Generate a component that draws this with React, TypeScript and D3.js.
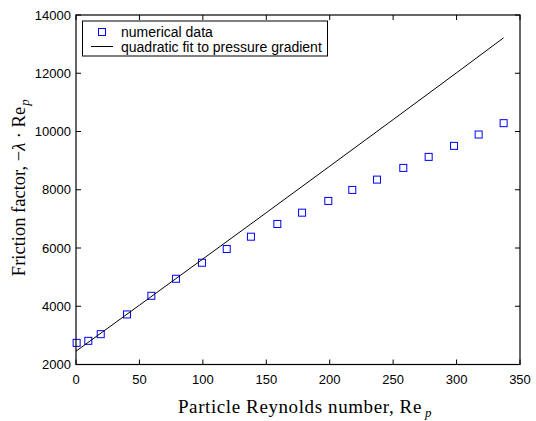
import React, { useEffect, useRef } from 'react';
import * as d3 from 'd3';

// numerical data
const reynolds = [0.5, 9.7, 19.5, 40.2, 59.4, 78.8, 99.3, 118.8, 137.9, 158.7, 178.2, 198.9, 217.8, 237.3, 258, 278, 298, 317.4, 337.1];
const friction = [2743, 2812, 3042, 3719, 4359, 4944, 5494, 5965, 6388, 6825, 7213, 7616, 7994, 8348, 8750, 9128, 9507, 9896, 10286];

// quadratic fit curve
const fitX = [0, 50, 100, 150, 200, 250, 300, 337];
const fitY = [2457, 4037, 5622, 7212, 8808, 10409, 12016, 13215];

const xTicks = [0, 50, 100, 150, 200, 250, 300, 350];
const yTicks = [2000, 4000, 6000, 8000, 10000, 12000, 14000];

const legendLabels = ['numerical data', 'quadratic fit to pressure gradient'];

const App = () => {
  const ref = useRef<SVGSVGElement>(null);

  useEffect(() => {
    const svg = d3.select(ref.current);
    svg.selectAll('*').remove();

    const left = 76, right = 520, top = 15, bottom = 364.5;
    const x = d3.scaleLinear().domain([0, 350]).range([left, right]);
    const y = d3.scaleLinear().domain([2000, 14000]).range([bottom, top]);
    const sans = 'Liberation Sans, Arial, sans-serif';
    const serif = 'Liberation Serif, Times New Roman, serif';
    const tick = 5;

    const g = svg.append('g');

    // data markers
    g.selectAll('rect.pt')
      .data(reynolds.map((r, i) => [r, friction[i]]))
      .enter()
      .append('rect')
      .attr('x', d => x(d[0]) - 3.5)
      .attr('y', d => y(d[1]) - 3.5)
      .attr('width', 7)
      .attr('height', 7)
      .attr('fill', 'none')
      .attr('stroke', '#0000ff')
      .attr('stroke-width', 1);

    // fit curve
    const line = d3.line<number>()
      .x((d, i) => x(fitX[i]))
      .y(d => y(d))
      .curve(d3.curveMonotoneX);
    g.append('path')
      .attr('d', line(fitY))
      .attr('fill', 'none')
      .attr('stroke', '#000')
      .attr('stroke-width', 1);

    // box
    g.append('rect')
      .attr('x', left).attr('y', top)
      .attr('width', right - left).attr('height', bottom - top)
      .attr('fill', 'none').attr('stroke', '#000').attr('stroke-width', 1.2);

    // ticks, all four sides
    xTicks.forEach(t => {
      g.append('line').attr('x1', x(t)).attr('x2', x(t)).attr('y1', bottom).attr('y2', bottom - tick).attr('stroke', '#000');
      g.append('line').attr('x1', x(t)).attr('x2', x(t)).attr('y1', top).attr('y2', top + tick).attr('stroke', '#000');
      g.append('text').attr('x', x(t)).attr('y', bottom + 19)
        .attr('text-anchor', 'middle').attr('font-family', sans).attr('font-size', 13)
        .text(t);
    });
    yTicks.forEach(t => {
      g.append('line').attr('x1', left).attr('x2', left + tick).attr('y1', y(t)).attr('y2', y(t)).attr('stroke', '#000');
      g.append('line').attr('x1', right).attr('x2', right - tick).attr('y1', y(t)).attr('y2', y(t)).attr('stroke', '#000');
      g.append('text').attr('x', left - 5).attr('y', y(t) + 4.5)
        .attr('text-anchor', 'end').attr('font-family', sans).attr('font-size', 13)
        .text(t);
    });

    // axis labels
    const xl = g.append('text').attr('x', 305).attr('y', 413)
      .attr('text-anchor', 'middle').attr('font-family', serif).attr('font-size', 19)
      .attr('letter-spacing', 0.6);
    xl.append('tspan').text('Particle Reynolds number, Re');
    xl.append('tspan').attr('font-style', 'italic').attr('font-size', 13).attr('dx', 3).attr('dy', 4).text('p');

    const yl = g.append('text').attr('transform', `translate(25,${(top + bottom) / 2 - 2}) rotate(-90)`)
      .attr('text-anchor', 'middle').attr('font-family', serif).attr('font-size', 18.5);
    yl.append('tspan').text('Friction factor, \u2212');
    yl.append('tspan').attr('font-style', 'italic').text('\u03bb');
    yl.append('tspan').text(' \u00b7 Re');
    yl.append('tspan').attr('font-style', 'italic').attr('font-size', 13).attr('dx', 1).attr('dy', 4).text('p');

    // legend
    const lg = g.append('g');
    lg.append('rect').attr('x', 82.5).attr('y', 21).attr('width', 245).attr('height', 35)
      .attr('fill', '#fff').attr('stroke', '#000').attr('stroke-width', 1);
    lg.append('rect').attr('x', 98.5).attr('y', 28.5).attr('width', 7).attr('height', 7)
      .attr('fill', 'none').attr('stroke', '#0000ff');
    lg.append('line').attr('x1', 91).attr('x2', 113).attr('y1', 46.5).attr('y2', 46.5).attr('stroke', '#000');
    legendLabels.forEach((l, i) => {
      lg.append('text').attr('x', 121).attr('y', 36.5 + i * 15)
        .attr('font-family', sans).attr('font-size', 14).text(l);
    });
  }, []);

  return <svg ref={ref} width={536} height={421} style={{ position: 'absolute', left: 0, top: 0, background: '#fff' }} />;
};

export default App;
